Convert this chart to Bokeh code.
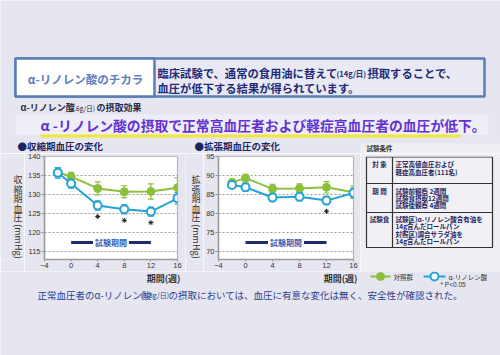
import math
from bokeh.plotting import figure
from bokeh.models import Range1d, Label, Whisker, TeeHead, ColumnDataSource, FixedTicker
from bokeh.layouts import column, row
from bokeh.embed import file_html
from bokeh.resources import INLINE
from bokeh.core.properties import value

# ---------------- data ----------------
weeks = [-2, 0, 4, 8, 12, 16]
x_ticks = [-4, 0, 4, 8, 12, 16]
test_period = [0, 12]

sbp_control = [135.9, 134.7, 131.6, 130.7, 130.8, 131.8]
sbp_control_err = [1.0, 1.1, 1.7, 1.6, 2.0, 2.6]
sbp_ala = [135.7, 132.9, 127.1, 126.1, 125.5, 129.0]
sbp_ala_err = [1.4, 1.2, 1.2, 1.2, 1.2, 1.5]
sbp_sig = [False, False, True, True, True, False]
sbp_ticks = [115, 120, 125, 130, 135, 140]

dbp_control = [88.2, 89.3, 86.5, 86.6, 86.9, 85.6]
dbp_control_err = [0.8, 1.0, 1.2, 1.2, 1.5, 1.6]
dbp_ala = [87.5, 86.9, 84.2, 84.4, 83.4, 85.4]
dbp_ala_err = [0.9, 1.0, 1.1, 1.1, 1.1, 1.3]
dbp_sig = [False, False, False, False, True, False]
dbp_ticks = [70, 75, 80, 85, 90, 95]

series_names = ["対照群", "α-リノレン酸"]

# ---------------- style ----------------
JP = "Noto Sans CJK JP"
LAT = "Liberation Sans"
BG = "#e6e6f0"
PANEL = "#eeeef3"
GREEN = "#8cbf3c"
BLUE = "#23a3d6"
NAVY = "#1c2562"

ROW_TOP, ROW_BOT = 153, 271          # page rows (pixels)
FR_TOP, FR_BOT = 156, 259            # chart frames (pixels)
B_TOP, B_BOT = FR_TOP - ROW_TOP, ROW_BOT - FR_BOT


def deco(x0, x1, y0, y1, top=0, bottom=0, fill=BG, border=BG, flip=True):
    """figure whose coordinates are page pixels (y downward when flip=True)"""
    w = x1 - x0
    h = (y1 - y0) + top + bottom
    yr = Range1d(y1, y0) if flip else Range1d(-y1, -y0)
    p = figure(width=w, height=h, x_range=Range1d(x0, x1), y_range=yr,
               output_backend="svg", toolbar_location=None,
               min_border_left=0, min_border_right=0, min_border_top=top, min_border_bottom=bottom,
               x_axis_location=None, y_axis_location=None, title=None)
    p.grid.visible = False
    p.outline_line_color = None
    p.background_fill_color = fill
    p.border_fill_color = border
    return p


def txt(p, x, y, s, size, color, bold=False, align="left", font=JP, angle=0.0):
    p.text(x=[x], y=[y], text=[s], text_font=value(font), text_font_size=f"{size}px",
           text_color=color, text_font_style="bold" if bold else "normal",
           text_align=align, text_baseline="middle", angle=angle)


# ---------------- top area ----------------
top = deco(0, 500, 0, ROW_TOP)
top.quad(left=[15], right=[484], top=[58], bottom=[96], fill_color="#e9e9f4",
         line_color="#5a7db5", line_width=2.5)
top.quad(left=[15], right=[154], top=[58], bottom=[96], fill_color="white",
         line_color="#5a7db5", line_width=2.5)
txt(top, 85, 78, "α-リノレン酸のチカラ", 11.5, "#5b80bb", bold=True, align="center")
txt(top, 157, 72, "臨床試験で、通常の食用油に替えて", 11.3, "#232a78", bold=True)
txt(top, 336, 72.5, "(14g/日)", 7.5, "#232a78", bold=True)
txt(top, 367, 72, "摂取することで、", 11.3, "#232a78", bold=True)
txt(top, 157, 87, "血圧が低下する結果が得られています。", 11.3, "#232a78", bold=True)

txt(top, 20, 107, "α-リノレン酸", 9, "#2a2a40", bold=True)
txt(top, 68, 107.5, "(2.6g/日)", 6.5, "#2a2a40")
txt(top, 96, 107, "の摂取効果", 9, "#2a2a40", bold=True)

top.quad(left=[15], right=[488], top=[114], bottom=[134], fill_color="#eeeef6", line_color=None)
top.segment(x0=[40], x1=[460], y0=[135.5], y1=[135.5], line_color="#f3e63a", line_width=3)
txt(top, 40, 124, "α -リノレン酸の摂取で正常高血圧者および軽症高血圧者の血圧が低下。",
    13.8, "#6432d2", bold=True)

# chart titles + top of the conditions panel
txt(top, 17, 145, "●収縮期血圧の変化", 9.5, NAVY, bold=True)
txt(top, 194, 145.5, "●拡張期血圧の変化", 9.5, NAVY, bold=True)
top.quad(left=[360], right=[500], top=[143], bottom=[ROW_TOP], fill_color=PANEL, line_color=None)
txt(top, 366, 147.5, "試験条件", 6.5, "#333333", bold=True)


# ---------------- charts ----------------
FRAME_W = 135
FRAME_H = FR_BOT - FR_TOP
PPU_Y = FRAME_H / 27.1


def chart(width, left_border, ymax, yticks, ctrl, ctrl_err, ala, ala_err, sig, period_y):
    ymin = ymax - FRAME_H / PPU_Y
    p = figure(width=width, height=ROW_BOT - ROW_TOP, x_range=Range1d(-4, 16),
               y_range=Range1d(ymin, ymax),
               min_border_left=left_border, min_border_right=width - left_border - FRAME_W,
               min_border_top=B_TOP, min_border_bottom=B_BOT,
               output_backend="svg", toolbar_location=None, title=None)
    p.background_fill_color = "white"
    p.border_fill_color = BG
    p.outline_line_color = "#b8b8b8"
    p.outline_line_width = 1.2
    p.xgrid.visible = False
    p.ygrid.grid_line_color = "#9a9a9a"
    p.ygrid.grid_line_dash = "2 2"
    p.ygrid.grid_line_width = 1
    p.xaxis.ticker = FixedTicker(ticks=x_ticks)
    p.yaxis.ticker = FixedTicker(ticks=yticks)
    for ax in (p.xaxis[0], p.yaxis[0]):
        ax.axis_line_color = "#9a9a9a"
        ax.axis_line_width = 1.5
        ax.major_tick_line_color = "#9a9a9a"
        ax.major_tick_in = 0
        ax.minor_tick_line_color = None
        ax.major_label_text_font = LAT
        ax.major_label_text_font_size = "7.5px"
        ax.major_label_text_color = "#333333"
        ax.major_label_standoff = 1
    p.xaxis.major_tick_out = 2
    p.yaxis.major_tick_out = 3

    for vals, errs, col in ((ctrl, ctrl_err, GREEN), (ala, ala_err, BLUE)):
        src = ColumnDataSource(dict(x=weeks, lo=[v - e for v, e in zip(vals, errs)],
                                    hi=[v + e for v, e in zip(vals, errs)]))
        p.add_layout(Whisker(source=src, base="x", upper="hi", lower="lo",
                             line_color=col, line_width=1.2,
                             upper_head=TeeHead(size=6, line_color=col, line_width=1.2),
                             lower_head=TeeHead(size=6, line_color=col, line_width=1.2)))
    p.line(weeks, ctrl, line_color=GREEN, line_width=2)
    p.scatter(weeks, ctrl, size=8, fill_color=GREEN, line_color=GREEN)
    p.line(weeks, ala, line_color=BLUE, line_width=2)
    p.scatter(weeks, ala, size=8, fill_color="white", line_color=BLUE, line_width=2)

    sx = [w for w, s in zip(weeks, sig) if s]
    sy = [v - e - 1.7 for v, e, s in zip(ala, ala_err, sig) if s]
    p.scatter(sx, sy, marker="asterisk", size=5, line_color="#222222", line_width=1)

    p.segment(x0=[test_period[0]], x1=[test_period[1]], y0=[period_y], y1=[period_y],
              line_color="#1f2c6b", line_width=3)
    p.add_layout(Label(x=sum(test_period) / 2, y=period_y, text="試験期間", text_align="center",
                       text_baseline="middle", text_font=JP, text_font_size="8px",
                       text_font_style="bold", text_color="#3b5bb5",
                       background_fill_color="white", padding=2))
    return p


def ylabel_fig(x0, x1, xc, kanji):
    # un-flipped y (negated page pixels) so that the rotation is unambiguous
    p = deco(x0, x1, FR_TOP, FR_BOT, top=B_TOP, bottom=B_BOT, flip=False)
    for ch, yy in zip(kanji, [179, 188.5, 198, 207.5, 217]):
        txt(p, xc, -yy, ch, 9, "#333333", align="center")
    txt(p, xc, -241, "(mmHg)", 9, "#333333", align="center", angle=-math.pi / 2)
    return p


yl1 = ylabel_fig(0, 24, 17.5, "収縮期血圧")
c1 = chart(161, 18, 140, sbp_ticks, sbp_control, sbp_control_err, sbp_ala, sbp_ala_err,
           sbp_sig, 117.4)
yl2 = ylabel_fig(185, 203, 195.5, "拡張期血圧")
c2 = chart(157, 15, 95, dbp_ticks, dbp_control, dbp_control_err, dbp_ala, dbp_ala_err,
           dbp_sig, 72.4)

# ---------------- conditions table ----------------
rp = deco(360, 500, FR_TOP, FR_BOT, top=B_TOP, bottom=B_BOT, fill=PANEL, border=PANEL)
rp.quad(left=[366], right=[492], top=[156.5], bottom=[247], fill_color="#f0f0f5",
        line_color="#333333", line_width=1.2)
rp.segment(x0=[366, 366], x1=[492, 492], y0=[183, 212], y1=[183, 212],
           line_color="#333333", line_width=1.2)
rp.segment(x0=[392], x1=[392], y0=[156.5], y1=[247], line_color="#333333", line_width=1.2)
TC = "#1e2660"
FS = 6.5
txt(rp, 379, 163, "対 象", FS, TC, bold=True, align="center")
txt(rp, 395, 163, "正常高値血圧および", FS, TC, bold=True)
txt(rp, 395, 171, "軽症高血圧者(111名)", FS, TC, bold=True)
txt(rp, 379, 190, "期 間", FS, TC, bold=True, align="center")
txt(rp, 395, 190, "試験前観察  2週間", FS, TC, bold=True)
txt(rp, 395, 197, "試験食摂取12週間", FS, TC, bold=True)
txt(rp, 395, 204, "試験後観察  4週間", FS, TC, bold=True)
txt(rp, 379, 218, "試験食", FS, TC, bold=True, align="center")
txt(rp, 395, 218, "試験区)α-リノレン酸含有油を", FS, TC, bold=True)
txt(rp, 395, 225, "14g含んだロールパン", FS, TC, bold=True)
txt(rp, 395, 233, "対照区)調合サラダ油を", FS, TC, bold=True)
txt(rp, 395, 240, "14g含んだロールパン", FS, TC, bold=True)

# ---------------- bottom ----------------
bot = deco(0, 500, ROW_BOT, 355)
txt(bot, 180, 278, "期間(週)", 9, "#333333", bold=True, align="right")
txt(bot, 357, 278, "期間(週)", 9, "#333333", bold=True, align="right")

LY = 276
bot.line([370, 390], [LY, LY], line_color=GREEN, line_width=2)
bot.scatter([380], [LY], size=8, fill_color=GREEN, line_color=GREEN)
txt(bot, 393, LY, series_names[0], 6.5, "#333333")
bot.line([423, 445], [LY, LY], line_color=BLUE, line_width=2)
bot.scatter([434], [LY], size=8, fill_color="white", line_color=BLUE, line_width=2)
txt(bot, 448, LY, series_names[1], 6.5, "#333333")
txt(bot, 440, 284, "* P<0.05", 6.5, "#333333", font=LAT)

BC = "#2b3f91"
txt(bot, 37, 294, "正常血圧者のα-リノレン酸", 9.5, BC)
txt(bot, 140, 294.5, "(7.8g/日)", 7, BC)
txt(bot, 168, 294, "の摂取においては、血圧に有意な変化は無く、安全性が確認された。", 9.5, BC)

layout = column(top, row(yl1, c1, yl2, c2, rp), bot)
open("out.html", "w").write(file_html(layout, INLINE))
